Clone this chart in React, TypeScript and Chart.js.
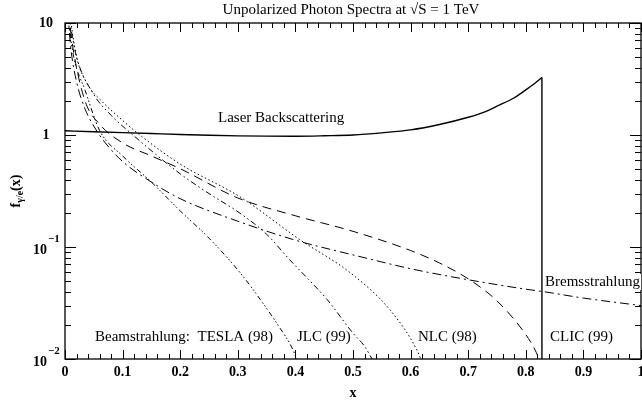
import React, { useEffect, useRef } from "react";
import { Chart, registerables } from "chart.js";
Chart.register(...registerables);

// ---- data ----
const laserX = [0, 0.05, 0.1, 0.15, 0.2, 0.25, 0.3, 0.35, 0.4, 0.45, 0.5, 0.55, 0.6, 0.65, 0.7, 0.73, 0.75, 0.78, 0.8, 0.81, 0.82, 0.828];
const laserY = [1.09, 1.07, 1.05, 1.03, 1.01, 0.995, 0.983, 0.977, 0.975, 0.984, 1.0, 1.045, 1.11, 1.24, 1.44, 1.62, 1.81, 2.15, 2.53, 2.75, 3.02, 3.26];
const laserDropX = [0.828, 0.828];
const laserDropY = [3.26, 0.005];

const teslaX = [0.004, 0.015, 0.035, 0.06, 0.1, 0.15, 0.2, 0.25, 0.304, 0.339, 0.37, 0.396, 0.405];
const teslaY = [12, 5, 2.5, 1.1, 0.65, 0.38, 0.21, 0.12, 0.059, 0.034, 0.02, 0.012, 0.009];

const jlcX = [0.006, 0.02, 0.05, 0.08, 0.118, 0.2, 0.25, 0.304, 0.35, 0.39, 0.43, 0.455, 0.5, 0.52, 0.538];
const jlcY = [12, 5, 2.3, 1.5, 1.0, 0.45, 0.3, 0.2, 0.13, 0.077, 0.047, 0.034, 0.017, 0.013, 0.009];

const nlcX = [0.008, 0.02, 0.04, 0.064, 0.1, 0.13, 0.2, 0.304, 0.408, 0.495, 0.564, 0.611, 0.625];
const nlcY = [12, 5, 2.8, 2.0, 1.35, 1.0, 0.55, 0.28, 0.116, 0.059, 0.0275, 0.012, 0.008];

const clicX = [0.006, 0.015, 0.035, 0.06, 0.1, 0.15, 0.2, 0.3, 0.4, 0.5, 0.6, 0.65, 0.7, 0.75, 0.8, 0.818, 0.83];
const clicY = [12, 5.5, 2.0, 1.25, 0.85, 0.65, 0.5, 0.274, 0.19, 0.138, 0.093, 0.072, 0.052, 0.033, 0.0165, 0.0115, 0.008];

const bremX = [0.005, 0.01, 0.02, 0.035, 0.05, 0.07, 0.1, 0.15, 0.2, 0.3, 0.4, 0.465, 0.5, 0.6, 0.7, 0.8, 0.83, 0.9, 1.0];
const bremY = [12, 6.0, 3.0, 1.7, 1.2, 0.85, 0.58, 0.38, 0.27, 0.17, 0.115, 0.094, 0.085, 0.064, 0.051, 0.042, 0.04, 0.035, 0.03];

const xTickValues = [0, 0.1, 0.2, 0.3, 0.4, 0.5, 0.6, 0.7, 0.8, 0.9, 1];
const xTickLabels = ["0", "0.1", "0.2", "0.3", "0.4", "0.5", "0.6", "0.7", "0.8", "0.9", "1"];
const yTickValues = [10, 1, 0.1, 0.01];
const yTickBase = ["10", "1", "10", "10"];
const yTickExp = ["", "", "\u22121", "\u22122"];

const titleText = "Unpolarized Photon Spectra at \u221AS = 1 TeV";

const SERIF = "'Liberation Serif', 'DejaVu Serif', serif";

function pts(xs: number[], ys: number[]) {
  return xs.map((x, i) => ({ x, y: ys[i] }));
}

const framePlugin = {
  id: "frame",
  afterDraw(chart: any) {
    const { ctx, chartArea, scales } = chart;
    const { left, right, top, bottom } = chartArea;
    const xs = scales.x;
    const ys = scales.y;
    ctx.save();
    ctx.strokeStyle = "#000";
    ctx.fillStyle = "#000";
    ctx.lineWidth = 1.3;
    ctx.strokeRect(left, top, right - left, bottom - top);

    ctx.lineWidth = 1;
    // x ticks
    for (let i = 0; i <= 50; i++) {
      const v = i / 50;
      const px = Math.round(xs.getPixelForValue(v)) + 0.5;
      const len = i % 5 === 0 ? 9 : 5;
      ctx.beginPath();
      ctx.moveTo(px, bottom);
      ctx.lineTo(px, bottom - len);
      ctx.moveTo(px, top);
      ctx.lineTo(px, top + len);
      ctx.stroke();
    }
    // y ticks
    for (const dec of [0.01, 0.1, 1]) {
      for (let m = 1; m <= 10; m++) {
        const v = dec * m;
        if (v > 10.0001) continue;
        const py = Math.round(ys.getPixelForValue(v)) + 0.5;
        const len = m === 1 || m === 10 ? 11 : 6;
        ctx.beginPath();
        ctx.moveTo(left, py);
        ctx.lineTo(left + len, py);
        ctx.moveTo(right, py);
        ctx.lineTo(right - len, py);
        ctx.stroke();
      }
    }

    // x tick labels
    ctx.font = "bold 14px " + SERIF;
    ctx.textAlign = "center";
    ctx.textBaseline = "middle";
    xTickValues.forEach((v, i) => {
      ctx.fillText(xTickLabels[i], xs.getPixelForValue(v), bottom + 13);
    });

    // y tick labels
    yTickValues.forEach((v, i) => {
      const py = ys.getPixelForValue(v);
      if (yTickExp[i]) {
        ctx.font = "bold 14px " + SERIF;
        ctx.textAlign = "right";
        ctx.textBaseline = "middle";
        ctx.fillText(yTickBase[i], 47, py + 3);
        ctx.font = "bold 11px " + SERIF;
        ctx.textAlign = "left";
        ctx.fillText(yTickExp[i], 48, py - 8);
      } else {
        ctx.font = "bold 14px " + SERIF;
        ctx.textAlign = "center";
        ctx.textBaseline = "middle";
        ctx.fillText(yTickBase[i], 46, py);
      }
    });

    // axis titles
    ctx.font = "bold 14px " + SERIF;
    ctx.textAlign = "center";
    ctx.textBaseline = "middle";
    ctx.fillText("x", (left + right) / 2, bottom + 34);

    ctx.save();
    ctx.translate(16, (top + bottom) / 2);
    ctx.rotate(-Math.PI / 2);
    ctx.textBaseline = "middle";
    ctx.textAlign = "left";
    ctx.font = "bold 14px " + SERIF;
    const fW = ctx.measureText("f").width;
    ctx.font = "bold 10px " + SERIF;
    const sW = ctx.measureText("\u03B3/e").width;
    ctx.font = "bold 14px " + SERIF;
    const xW = ctx.measureText("(x)").width;
    let cx = -(fW + sW + xW) / 2;
    ctx.fillText("f", cx, 0);
    cx += fW;
    ctx.font = "bold 10px " + SERIF;
    ctx.fillText("\u03B3/e", cx, 4);
    cx += sW;
    ctx.font = "bold 14px " + SERIF;
    ctx.fillText("(x)", cx, 0);
    ctx.restore();

    // title
    ctx.font = "15px " + SERIF;
    ctx.textAlign = "center";
    ctx.textBaseline = "middle";
    ctx.fillText(titleText, 351, 10);

    // curve labels
    ctx.font = "15px " + SERIF;
    ctx.textAlign = "left";
    ctx.textBaseline = "middle";
    ctx.fillText("Laser Backscattering", 218, 118);
    ctx.fillText("Beamstrahlung:  TESLA (98)", 95, 337);
    ctx.fillText("JLC (99)", 297, 337);
    ctx.fillText("NLC (98)", 418, 337);
    ctx.fillText("CLIC (99)", 550, 337);
    const bw = ctx.measureText("Bremsstrahlung").width;
    ctx.fillStyle = "#fff";
    ctx.fillRect(544, 274, bw + 2, 16);
    ctx.fillStyle = "#000";
    ctx.fillText("Bremsstrahlung", 545, 282);
    ctx.restore();
  },
};

export default function App() {
  const ref = useRef<HTMLCanvasElement | null>(null);
  useEffect(() => {
    if (!ref.current) return;
    const common = {
      borderColor: "#000",
      borderWidth: 1,
      pointRadius: 0,
      fill: false,
      cubicInterpolationMode: "monotone" as const,
    };
    const chart = new Chart(ref.current, {
      type: "line",
      data: {
        datasets: [
          { ...common, label: "Laser", data: pts(laserX, laserY), borderWidth: 1.4 },
          { ...common, label: "LaserDrop", data: pts(laserDropX, laserDropY), borderWidth: 1.4 },
          { ...common, label: "TESLA", data: pts(teslaX, teslaY), borderDash: [5, 3, 1.5, 2, 1.5, 2, 1.5, 3] },
          { ...common, label: "JLC", data: pts(jlcX, jlcY), borderDash: [6, 3, 1.5, 3, 1.5, 3] },
          { ...common, label: "NLC", data: pts(nlcX, nlcY), borderDash: [1.5, 2.5] },
          { ...common, label: "CLIC", data: pts(clicX, clicY), borderDash: [9, 6] },
          { ...common, label: "Brems", data: pts(bremX, bremY), borderDash: [9, 4, 2, 4] },
        ],
      },
      options: {
        animation: false,
        responsive: false,
        maintainAspectRatio: false,
        layout: { padding: { left: 65, right: 1, top: 23, bottom: 48 } },
        plugins: { legend: { display: false }, tooltip: { enabled: false }, title: { display: false } },
        scales: {
          x: { type: "linear", min: 0, max: 1, display: false },
          y: { type: "logarithmic", min: 0.01, max: 10, display: false },
        },
      },
      plugins: [framePlugin],
    });
    return () => chart.destroy();
  }, []);
  return (
    <div style={{ position: "absolute", left: 0, top: 0, width: 642, height: 407, background: "#fff" }}>
      <canvas ref={ref} width={642} height={407} style={{ display: "block" }} />
    </div>
  );
}
